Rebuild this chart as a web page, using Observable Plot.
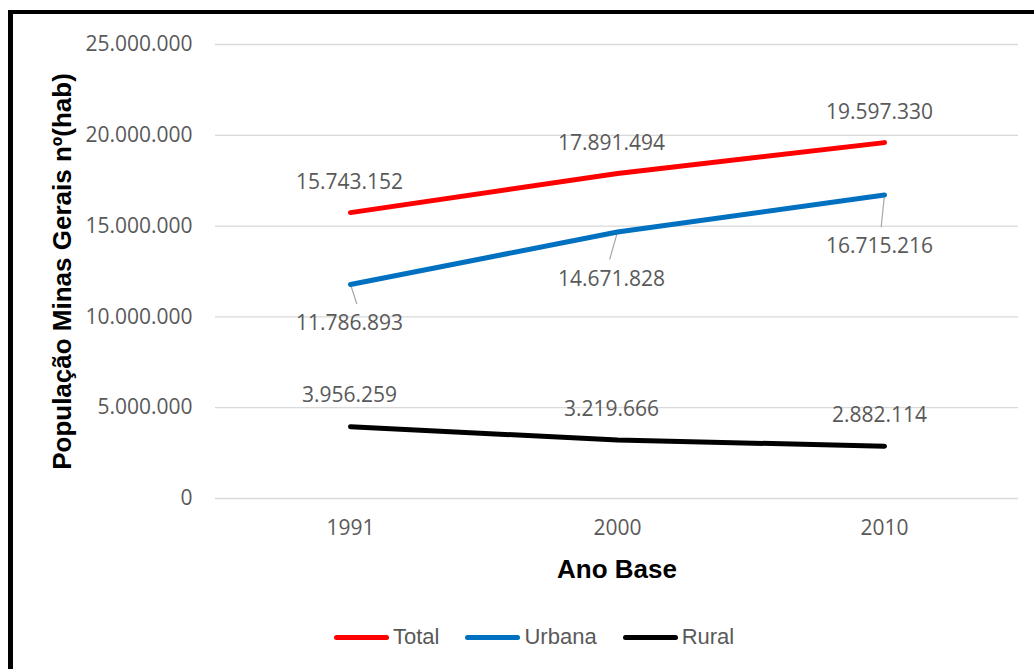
<!DOCTYPE html>
<html><head><meta charset="utf-8">
<script src="https://cdn.jsdelivr.net/npm/d3@7"></script>
<script src="https://cdn.jsdelivr.net/npm/@observablehq/plot@0.6"></script>
<style>
body{margin:0;background:#fff;}
#wrap{position:relative;width:1034px;height:669px;overflow:hidden;background:#fff;}
.bt{position:absolute;left:8px;top:10px;width:1026px;height:4px;background:#000;}
.bl{position:absolute;left:8px;top:10px;width:5px;height:659px;background:#000;}
#chart{position:absolute;left:0;top:0;}
#legend{position:absolute;top:624px;left:334px;display:flex;align-items:center;font-family:"Liberation Sans Narrow","Liberation Sans",sans-serif;font-size:22px;color:#595959;}
.item{display:flex;align-items:center;margin-right:26px;}
.sw{width:55px;height:5px;border-radius:3px;margin-right:4px;}
</style></head>
<body><div id="wrap"><div id="chart"></div><div class="bt"></div><div class="bl"></div><div id="legend"></div></div>
<script>
const years = ["1991", "2000", "2010"];
const series = ["Total", "Urbana", "Rural"];
const total = [15743152, 17891494, 19597330];
const urbana = [11786893, 14671828, 16715216];
const rural = [3956259, 3219666, 2882114];
const colors = ["#ff0000", "#0070c0", "#000000"];
const yTicks = [0, 5000000, 10000000, 15000000, 20000000, 25000000];
const yTitle = "População Minas Gerais nº(hab)";
const xTitle = "Ano Base";

const values = {Total: total, Urbana: urbana, Rural: rural};
const data = series.flatMap(s => years.map((y, i) => ({series: s, year: y, value: values[s][i]})));
const fmt = d3.formatLocale({decimal: ",", thousands: ".", grouping: [3], currency: ["R$", ""]}).format(",d");

// label offsets (pixels)
const labelDx = {"1991": -1, "2000": -6, "2010": -5};
const labelDy = {Total: () => -30, Rural: () => -31, Urbana: y => ({"1991": 39, "2000": 47, "2010": 51})[y]};
const leaderRotate = {"1991": 162, "2000": 196, "2010": 186};
const leaderLen = {"1991": 20, "2000": 28, "2010": 32};
const urb = data.filter(d => d.series === "Urbana");
const noHead = {draw(context, l) { context.moveTo(0, -3); context.lineTo(0, -l); }};

const chart = Plot.plot({
  width: 1034, height: 610,
  marginLeft: 215, marginRight: 16, marginTop: 44, marginBottom: 112,
  style: {fontFamily: "Open Sans", fontSize: "21px", color: "#595959", background: "transparent"},
  x: {type: "point", domain: years, padding: 0.5, label: null},
  y: {domain: [0, 25000000], label: null},
  color: {domain: series, range: colors},
  marks: [
    Plot.ruleY(yTicks, {stroke: "#d9d9d9", strokeWidth: 1.3}),
    Plot.axisY(yTicks, {tickSize: 0, tickPadding: 23, tickFormat: fmt, label: null}),
    Plot.axisX({tickSize: 0, tickPadding: 22, label: null}),
    ...urb.map(d => Plot.vector([d], {x: "year", y: "value", length: leaderLen[d.year], rotate: leaderRotate[d.year], anchor: "start", shape: noHead, stroke: "#a6a6a6", strokeWidth: 1.2})),
    Plot.line(data, {x: "year", y: "value", z: "series", stroke: "series", strokeWidth: 5, strokeLinecap: "round"}),
    ...data.map(d => Plot.text([d], {x: "year", y: "value", text: d => fmt(d.value), dx: labelDx[d.year], dy: labelDy[d.series](d.year), fill: "#595959", lineAnchor: "middle"})),
    Plot.text([yTitle], {frameAnchor: "left", rotate: -90, dx: -153, textAnchor: "middle", lineAnchor: "middle", fontWeight: "bold", fontSize: 26, fontFamily: "Liberation Sans", fill: "#000"}),
    Plot.text([xTitle], {frameAnchor: "bottom", dy: 71, textAnchor: "middle", lineAnchor: "middle", fontWeight: "bold", fontSize: 26, fontFamily: "Liberation Sans", fill: "#000"})
  ]
});
document.getElementById("chart").appendChild(chart);

const legend = document.getElementById("legend");
series.forEach((s, i) => {
  const it = document.createElement("div");
  it.className = "item";
  it.innerHTML = `<div class="sw" style="background:${colors[i]}"></div><span>${s}</span>`;
  legend.appendChild(it);
});
</script></body></html>
